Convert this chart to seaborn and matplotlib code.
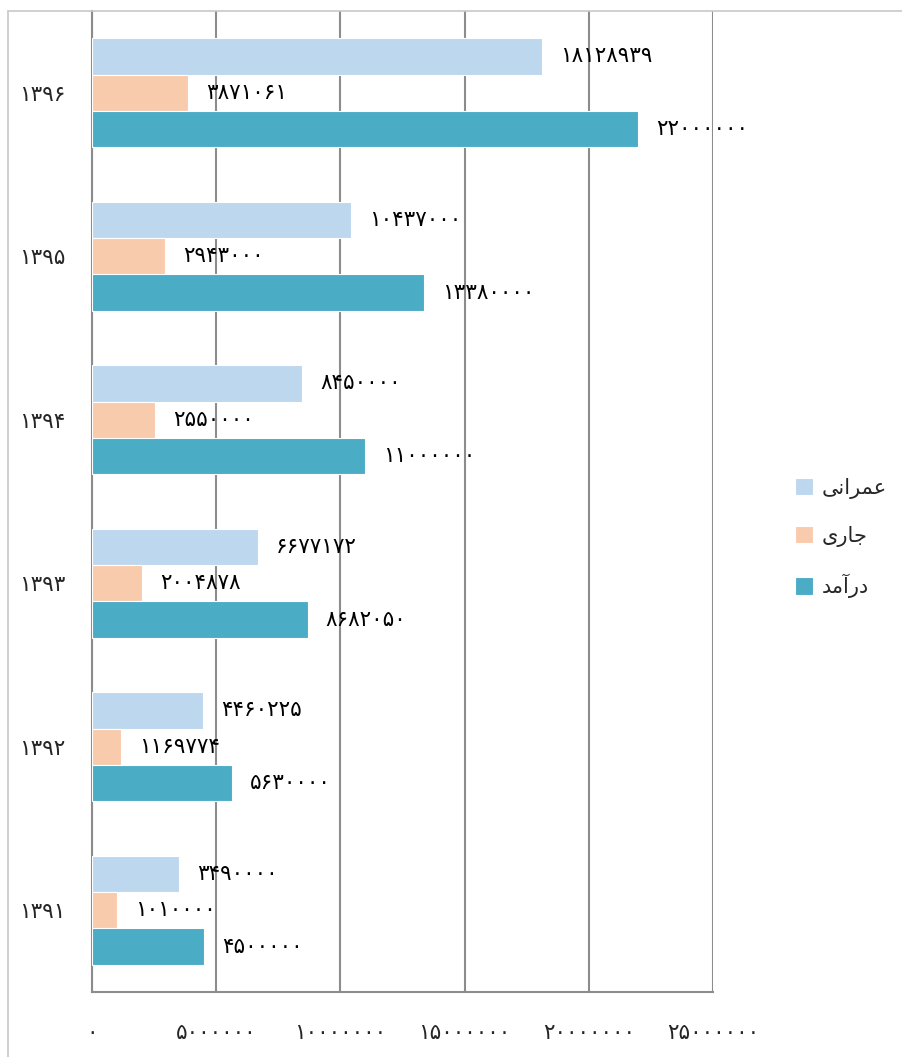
import seaborn as sns
import matplotlib
matplotlib.use("Agg")
import matplotlib.pyplot as plt
import pandas as pd

# data (years top to bottom, as in the chart)
years = ["1396", "1395", "1394", "1393", "1392", "1391"]
series = ["عمرانی", "جاری", "درآمد"]
omrani = [18128939, 10437000, 8450000, 6677172, 4460225, 3490000]
jari = [3871061, 2943000, 2550000, 2004878, 1169774, 1010000]
daramad = [22000000, 13380000, 11000000, 8682050, 5630000, 4500000]
x_ticks = [0, 5000000, 10000000, 15000000, 20000000, 25000000]

# matplotlib has no arabic shaping: pre-shaped presentation forms, visual order
shaped = {
    "عمرانی": "\uFBFD\uFEE7\uFE8D\uFEAE\uFEE4\uFECB",
    "جاری": "\uFBFC\uFEAD\uFE8E\uFE9F",
    "درآمد": "\uFEAA\uFEE3\uFE81\uFEAD\uFEA9",
}
fa_digits = str.maketrans("0123456789", "۰۱۲۳۴۵۶۷۸۹")

def fa(n):
    return str(n).translate(fa_digits)

colors = ["#BDD7EE", "#F8CBAD", "#4BACC6"]

rows = []
for name, vals in zip(series, [omrani, jari, daramad]):
    for y, v in zip(years, vals):
        rows.append({"year": fa(y), "series": shaped[name], "value": v})
df = pd.DataFrame(rows)

sns.set_style("white")
plt.rcParams["font.family"] = ["DejaVu Sans"]

fig = plt.figure(figsize=(9.03, 10.57), dpi=100)
ax = fig.add_axes([92 / 903, 65 / 1057, 621 / 903, 981 / 1057])

sns.barplot(data=df, y="year", x="value", hue="series", orient="h",
            order=[fa(y) for y in years],
            hue_order=[shaped[s] for s in series],
            palette=colors, width=0.667, saturation=1, edgecolor="white",
            linewidth=0.8, ax=ax, zorder=3)

for cont in ax.containers:
    ax.bar_label(cont, labels=[fa(int(v)) for v in cont.datavalues],
                 padding=13, fontsize=15.5, color="black")

ax.set_xlim(0, 25000000)
ax.set_ylim(5.5, -0.5)
ax.set_xticks(x_ticks)
ax.set_xticklabels([fa(t) for t in x_ticks], fontsize=15.5)
ax.tick_params(axis="x", length=8, width=1.5, color="#888888", pad=14, direction="out")
ax.tick_params(axis="y", which="major", length=0, pad=19, labelsize=15.5)
ax.set_yticks([i + 0.5 for i in range(0, 5)], minor=True)
ax.tick_params(axis="y", which="minor", length=8, width=1.5, color="#888888", direction="out")
ax.grid(axis="x", color="#8c8c8c", linewidth=1.5, zorder=0)
ax.set_axisbelow(True)
for s in ["top", "right"]:
    ax.spines[s].set_visible(False)
for s in ["left", "bottom"]:
    ax.spines[s].set_color("#8c8c8c")
    ax.spines[s].set_linewidth(1.5)
ax.set_xlabel("")
ax.set_ylabel("")

leg = ax.legend(loc="center left", bbox_to_anchor=(776 / 903, 519 / 1057),
                bbox_transform=fig.transFigure, frameon=False, fontsize=15,
                handlelength=0.9, handleheight=0.9, handletextpad=0.4,
                labelspacing=1.3)

# light frame around the figure
fig.add_artist(plt.Rectangle((8 / 903, -0.1), 1.2, (1057 - 11) / 1057 + 0.1,
                             transform=fig.transFigure, fill=False,
                             edgecolor="#c8c8c8", linewidth=1.2))

fig.savefig("out.png", dpi=100)
